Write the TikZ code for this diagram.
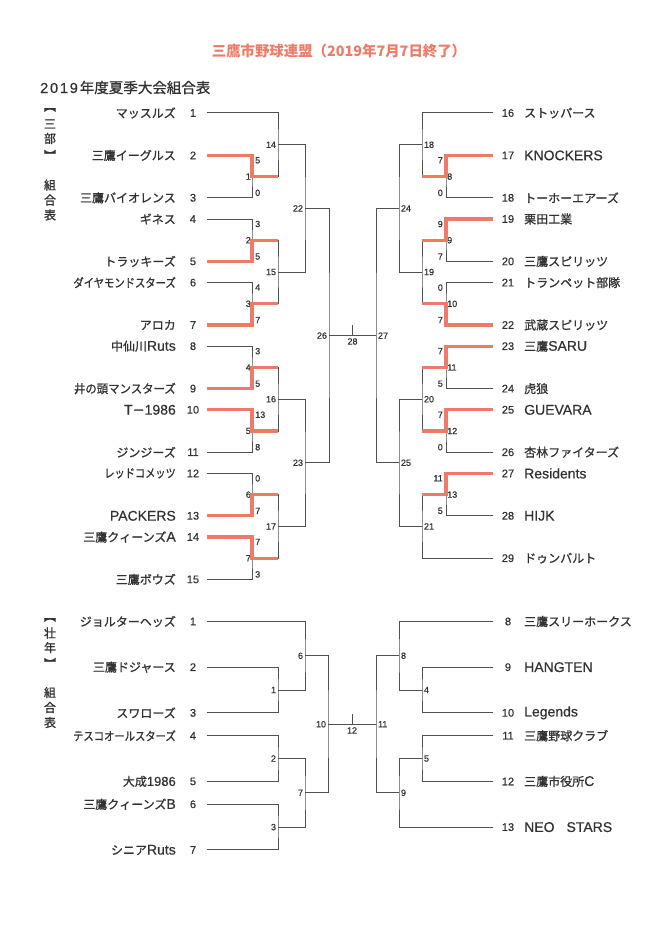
\documentclass[tikz,border=0pt]{standalone}
\usepackage{fontspec}
\usepackage{graphicx}
\setmainfont{Liberation Sans}[FakeBold=0.5]
\newfontfamily\jpf{Noto Sans CJK JP}[FakeBold=0.9]
\newfontfamily\jpt{Noto Sans CJK JP}
\usetikzlibrary{calc}
\definecolor{txt}{RGB}{50,50,50}
\definecolor{lnc}{RGB}{80,80,80}
\definecolor{redc}{RGB}{238,122,104}
\newcommand\J[1]{{\jpf\fontsize{12}{13}\selectfont #1}}
\newcommand\JS[2]{\scalebox{#1}[1]{\J{#2}}}
\newcommand\LM[5]{%
  \draw[ln] (#2) -| (M#1) |- (#3);
  \node[sc,anchor=north west,xshift=2pt] (sa#1) at (M#1 |- #2) {#4};
  \node[sc,anchor=south west,xshift=2pt] (sb#1) at (M#1 |- #3) {#5};
  \node[sc,anchor=east] (ml#1) at (M#1) {#1};
}
\newcommand\RM[5]{%
  \draw[ln] (#2) -| (M#1) |- (#3);
  \node[sc,anchor=north east,xshift=-2pt] (sa#1) at (M#1 |- #2) {#4};
  \node[sc,anchor=south east,xshift=-2pt] (sb#1) at (M#1 |- #3) {#5};
  \node[sc,anchor=west] (ml#1) at (M#1) {#1};
}
\begin{document}
\begin{tikzpicture}[x=1pt,y=-1pt,
  ln/.style={draw=lnc,line width=1pt},
  win/.style={draw=redc,line width=3.2pt},
  team/.style={text=txt,font=\fontsize{14}{15}\selectfont,inner sep=0pt},
  num/.style={text=txt,font=\fontsize{11}{12}\selectfont,inner sep=0pt},
  sc/.style={text=txt,font=\fontsize{9}{10}\selectfont,inner xsep=1pt,inner ysep=1.6pt},
  vch/.style={text=txt,font=\jpf\fontsize{12}{13}\selectfont,inner sep=0pt}]
\useasboundingbox[fill=white] (0,0) rectangle (653,952);

% ---------- titles ----------
\node[text=redc,font=\jpt\bfseries\fontsize{14.4}{15}\selectfont,inner sep=0pt] (title) at (339,51.5) {三鷹市野球連盟（2019年7月7日終了）};
\node[text=txt,anchor=west,inner sep=0pt] (sub) at (40,87.5) {{\fontsize{14.5}{15}\selectfont 2\kern1.8pt0\kern1.8pt1\kern1.8pt9\kern2pt}{\jpf\fontsize{14.5}{15}\selectfont 年度夏季大会組合表}};

\node[vch] (v1a) at (50,110) {︻};
\node[vch] (v1b) at (50,124) {三};
\node[vch] (v1c) at (50,138.5) {部};
\node[vch] (v1d) at (50,155) {︼};
\node[vch] (v2a) at (50,185) {組};
\node[vch] (v2b) at (50,200) {合};
\node[vch] (v2c) at (50,215) {表};
\node[vch] (v3a) at (50,620) {︻};
\node[vch] (v3b) at (50,633) {壮};
\node[vch] (v3c) at (50,647.5) {年};
\node[vch] (v3d) at (50,663) {︼};
\node[vch] (v4a) at (50,692.5) {組};
\node[vch] (v4b) at (50,707.5) {合};
\node[vch] (v4c) at (50,722.5) {表};

% ---------- upper coordinates ----------
\foreach \i/\y in {1/113,2/155.4,3/197.8,4/219,5/261.4,6/282.6,7/325,8/346.2,9/388.6,10/409.8,11/452.2,12/473.4,13/515.8,14/537,15/579.4}
  {\coordinate (L\i) at (207,\y);}
\foreach \i/\y in {16/113,17/155.4,18/197.8,19/219,20/261.4,21/282.6,22/325,23/346.2,24/388.6,25/409.8,26/452.2,27/473.4,28/515.8,29/558.2}
  {\coordinate (R\i) at (493,\y);}
\coordinate (M1) at (252,176.6);
\coordinate (M2) at (252,240.2);
\coordinate (M3) at (252,303.8);
\coordinate (M4) at (252,367.4);
\coordinate (M5) at (252,431);
\coordinate (M6) at (252,494.6);
\coordinate (M7) at (252,558.2);
\coordinate (M14) at (278,144.8);
\coordinate (M15) at (278,272);
\coordinate (M16) at (278,399.2);
\coordinate (M17) at (278,526.4);
\coordinate (M22) at (305,208.4);
\coordinate (M23) at (305,462.8);
\coordinate (M26) at (329,335.6);
\coordinate (M8) at (446,176.6);
\coordinate (M9) at (446,240.2);
\coordinate (M10) at (446,303.8);
\coordinate (M11) at (446,367.4);
\coordinate (M12) at (446,431);
\coordinate (M13) at (446,494.6);
\coordinate (M18) at (422,144.8);
\coordinate (M19) at (422,272);
\coordinate (M20) at (422,399.2);
\coordinate (M21) at (422,526.4);
\coordinate (M24) at (399,208.4);
\coordinate (M25) at (399,462.8);
\coordinate (M27) at (376,335.6);
\coordinate (T28) at (352.5,325);

% ---------- upper team names ----------
\node[team,anchor=east] (n1) at (176,113) {\J{マッスルズ}};
\node[team,anchor=east] (n2) at (176,155.4) {\J{三鷹イーグルス}};
\node[team,anchor=east] (n3) at (176,197.8) {\J{三鷹バイオレンス}};
\node[team,anchor=east] (n4) at (176,219) {\J{ギネス}};
\node[team,anchor=east] (n5) at (176,261.4) {\J{トラッキーズ}};
\node[team,anchor=east] (n6) at (176,282.6) {\JS{0.86}{ダイヤモンドスターズ}};
\node[team,anchor=east] (n7) at (176,325) {\J{アロカ}};
\node[team,anchor=east] (n8) at (176,346.2) {\J{中仙川}Ruts};
\node[team,anchor=east] (n9) at (176,388.6) {\JS{0.95}{井の頭マンスターズ}};
\node[team,anchor=east] (n10) at (176,409.8) {T\J{－}1986};
\node[team,anchor=east] (n11) at (176,452.2) {\J{ジンジーズ}};
\node[team,anchor=east] (n12) at (176,473.4) {\JS{0.85}{レッドコメッツ}};
\node[team,anchor=east] (n13) at (176,515.8) {PACKERS};
\node[team,anchor=east] (n14) at (176,537) {\J{三鷹クィーンズ}A};
\node[team,anchor=east] (n15) at (176,579.4) {\J{三鷹ボウズ}};
\foreach \i/\y in {1/113,2/155.4,3/197.8,4/219,5/261.4,6/282.6,7/325,8/346.2,9/388.6,10/409.8,11/452.2,12/473.4,13/515.8,14/537,15/579.4}
  {\node[num] (k\i) at (193,\y) {\i};}
\foreach \i/\y in {16/113,17/155.4,18/197.8,19/219,20/261.4,21/282.6,22/325,23/346.2,24/388.6,25/409.8,26/452.2,27/473.4,28/515.8,29/558.2}
  {\node[num] (k\i) at (508,\y) {\i};}
\node[team,anchor=west] (n16) at (524,113) {\J{ストッパース}};
\node[team,anchor=west] (n17) at (524,155.4) {KNOCKERS};
\node[team,anchor=west] (n18) at (524,197.8) {\J{トーホーエアーズ}};
\node[team,anchor=west] (n19) at (524,219) {\J{栗田工業}};
\node[team,anchor=west] (n20) at (524,261.4) {\J{三鷹スピリッツ}};
\node[team,anchor=west] (n21) at (524,282.6) {\J{トランペット部隊}};
\node[team,anchor=west] (n22) at (524,325) {\J{武蔵スピリッツ}};
\node[team,anchor=west] (n23) at (524,346.2) {\J{三鷹}SARU};
\node[team,anchor=west] (n24) at (524,388.6) {\J{虎狼}};
\node[team,anchor=west] (n25) at (524,409.8) {GUEVARA};
\node[team,anchor=west] (n26) at (524,452.2) {\J{杏林ファイターズ}};
\node[team,anchor=west] (n27) at (524,473.4) {Residents};
\node[team,anchor=west] (n28) at (524,515.8) {HIJK};
\node[team,anchor=west] (n29) at (524,558.2) {\J{ドゥンバルト}};

% ---------- upper bracket, left ----------
\LM{1}{L2}{L3}{5}{0}
\LM{2}{L4}{L5}{3}{5}
\LM{3}{L6}{L7}{4}{7}
\LM{4}{L8}{L9}{3}{5}
\LM{5}{L10}{L11}{13}{8}
\LM{6}{L12}{L13}{0}{7}
\LM{7}{L14}{L15}{7}{3}
\draw[ln] (L1) -| (M14) |- (M1);
\draw[ln] (M2) -| (M15) |- (M3);
\draw[ln] (M4) -| (M16) |- (M5);
\draw[ln] (M6) -| (M17) |- (M7);
\draw[ln] (M14) -| (M22) |- (M15);
\draw[ln] (M16) -| (M23) |- (M17);
\draw[ln] (M22) -| (M26) |- (M23);
% ---------- upper bracket, right ----------
\RM{8}{R17}{R18}{7}{0}
\RM{9}{R19}{R20}{9}{7}
\RM{10}{R21}{R22}{0}{7}
\RM{11}{R23}{R24}{7}{5}
\RM{12}{R25}{R26}{7}{0}
\RM{13}{R27}{R28}{11}{5}
\draw[ln] (R16) -| (M18) |- (M8);
\draw[ln] (M9) -| (M19) |- (M10);
\draw[ln] (M11) -| (M20) |- (M12);
\draw[ln] (M13) -| (M21) |- (R29);
\draw[ln] (M18) -| (M24) |- (M19);
\draw[ln] (M20) -| (M25) |- (M21);
\draw[ln] (M24) -| (M27) |- (M25);
% final
\draw[ln] (M26) -- (M27);
\draw[ln] (T28) -- (T28 |- M26);

% winners
\draw[win] (L2) -| (M1) -- (M1 -| M14);
\draw[win] (L5) -| (M2) -- (M2 -| M15);
\draw[win] (L7) -| (M3) -- (M3 -| M15);
\draw[win] (L9) -| (M4) -- (M4 -| M16);
\draw[win] (L10) -| (M5) -- (M5 -| M16);
\draw[win] (L13) -| (M6) -- (M6 -| M17);
\draw[win] (L14) -| (M7) -- (M7 -| M17);
\draw[win] (R17) -| (M8) -- (M8 -| M18);
\draw[win] (R19) -| (M9) -- (M9 -| M19);
\draw[win] (R22) -| (M10) -- (M10 -| M19);
\draw[win] (R23) -| (M11) -- (M11 -| M20);
\draw[win] (R25) -| (M12) -- (M12 -| M20);
\draw[win] (R27) -| (M13) -- (M13 -| M21);

% match labels
\foreach \k in {14,15,16,17,22,23,26}
  {\node[sc,anchor=east,xshift=-0.8pt] (ml\k) at (M\k) {\k};}
\foreach \k in {18,19,20,21,24,25,27}
  {\node[sc,anchor=west,xshift=0.8pt] (ml\k) at (M\k) {\k};}
\node[sc,anchor=north] (ml28) at (352.5,336.5) {28};

% ---------- lower section ----------
\foreach \i/\y in {1/621.5,2/667.15,3/712.85,4/735.7,5/781.4,6/804.25,7/849.95}
  {\coordinate (l\i) at (207,\y); \node[num] (q\i) at (193,\y) {\i};}
\foreach \i/\y in {8/621.5,9/667.15,10/712.85,11/735.7,12/781.4,13/827.1}
  {\coordinate (r\i) at (493,\y); \node[num] (q\i) at (508,\y) {\i};}
\coordinate (m1) at (278,690);
\coordinate (m2) at (278,758.55);
\coordinate (m3) at (278,827.1);
\coordinate (m6) at (305,655.75);
\coordinate (m7) at (305,792.8);
\coordinate (m10) at (328,724.3);
\coordinate (m4) at (422,690);
\coordinate (m5) at (422,758.55);
\coordinate (m8) at (399,655.75);
\coordinate (m9) at (399,792.8);
\coordinate (m11) at (376,724.3);
\coordinate (t12) at (352,714);

\node[team,anchor=east] (p1) at (176,621.5) {\J{ジョルターヘッズ}};
\node[team,anchor=east] (p2) at (176,667.15) {\J{三鷹ドジャース}};
\node[team,anchor=east] (p3) at (176,712.85) {\J{スワローズ}};
\node[team,anchor=east] (p4) at (176,735.7) {\JS{0.86}{テスコオールスターズ}};
\node[team,anchor=east] (p5) at (176,781.4) {\J{大成}{\fontsize{13}{14}\selectfont 1986}};
\node[team,anchor=east] (p6) at (176,804.25) {\J{三鷹クィーンズ}B};
\node[team,anchor=east] (p7) at (176,849.95) {\J{シニア}Ruts};
\node[team,anchor=west] (p8) at (524,621.5) {\J{三鷹スリーホークス}};
\node[team,anchor=west] (p9) at (524,667.15) {HANGTEN};
\node[team,anchor=west] (p10) at (524,712.85) {Legends};
\node[team,anchor=west] (p11) at (524,735.7) {\J{三鷹野球クラブ}};
\node[team,anchor=west] (p12) at (524,781.4) {\J{三鷹市役所}C};
\node[team,anchor=west] (p13) at (524,827.1) {NEO\hspace{12pt}STARS};

\draw[ln] (l1) -| (m6) |- (m1);
\draw[ln] (l2) -| (m1) |- (l3);
\draw[ln] (l4) -| (m2) |- (l5);
\draw[ln] (l6) -| (m3) |- (l7);
\draw[ln] (m2) -| (m7) |- (m3);
\draw[ln] (m6) -| (m10) |- (m7);
\draw[ln] (r8) -| (m8) |- (m4);
\draw[ln] (r9) -| (m4) |- (r10);
\draw[ln] (r11) -| (m5) |- (r12);
\draw[ln] (m5) -| (m9) |- (r13);
\draw[ln] (m8) -| (m11) |- (m9);
\draw[ln] (m10) -- (m11);
\draw[ln] (t12) -- (t12 |- m10);

\foreach \k in {1,2,3,6,7,10}
  {\node[sc,anchor=east,xshift=-0.8pt] (ql\k) at (m\k) {\k};}
\foreach \k in {4,5,8,9,11}
  {\node[sc,anchor=west,xshift=0.8pt] (ql\k) at (m\k) {\k};}
\node[sc,anchor=north] (ql12) at (352,725.5) {12};
\end{tikzpicture}
\end{document}
